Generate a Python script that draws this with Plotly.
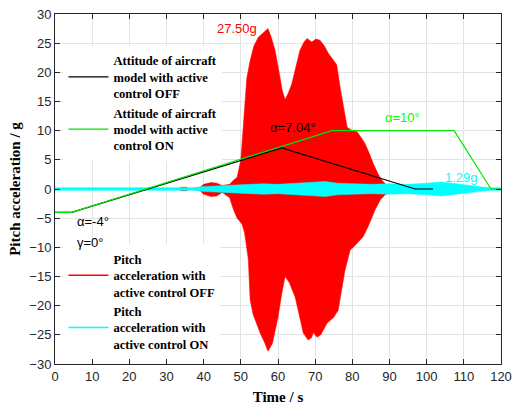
import plotly.graph_objects as go

# ---- data ----
red_up_t = [33, 34, 35.5, 36, 39, 40, 42, 43.5, 45, 47, 48, 49, 50, 50.5, 51, 51.6, 52.5, 53.5, 54.7, 56,
            57.3, 58.2, 59.2, 60.3, 61.1, 61.9, 62.8, 63.7, 65, 65.9, 67, 67.8, 69.1, 70.2, 71.3, 72.5,
            73.5, 75, 75.8, 76.7, 77.6, 78.6, 80, 81.3, 82.5, 83.4, 84.5, 85.6, 87, 88, 89, 92, 95, 96]
red_up_v = [0, 0.3, 0.3, 0, 0.3, 0.8, 1.1, 1.0, 0.6, 0.8, 1.5, 2.0, 5.0, 10, 15, 19, 22, 24.5, 26, 26.8,
            27.5, 26, 23.8, 20, 17, 15.3, 16.5, 18, 21.5, 23.8, 25.2, 25.8, 25.2, 25.7, 25.5, 24.5,
            23.3, 22, 21.3, 17.5, 14, 10.6, 10, 9.8, 8.7, 7.8, 6.2, 4.4, 2.5, 1.5, 0.8, 0.6, 0.4, 0]
red_lo_t = [33, 34, 35.5, 36, 39, 40, 42, 43.5, 45, 47, 48, 49, 50.3, 51, 52, 52.5, 53.3, 55.2, 56.5,
            57.3, 58.5, 60, 61, 61.9, 63, 64.6, 65.5, 66.8, 68.1, 69, 69.5, 70.5, 71.5, 73.2, 75, 76.2,
            77, 78, 79.4, 81, 82.9, 84.2, 86.1, 87.5, 88.8, 90, 95, 96]
red_lo_v = [0, -0.3, -0.3, 0, -0.3, -0.9, -1.3, -1.2, -0.6, -1.5, -3.5, -5, -6, -7.5, -12, -19, -21.5,
            -24.7, -26.5, -27.8, -26.5, -22, -18, -15, -16, -18.5, -21, -24.7, -25.9, -25.5, -24.6,
            -25.4, -25, -23, -22, -20.8, -18, -14, -10.5, -9.5, -8.2, -6.5, -3.6, -1.9, -1, -0.6, -0.4, 0]

cyan_t = [0, 38, 39, 42, 45, 48, 52, 56, 60, 65, 70, 72.7, 76, 80, 85, 90, 95, 100, 104, 108, 112, 116, 118, 120]
cyan_up = [0.15, 0.15, 0.4, 0.5, 0.6, 0.7, 0.8, 0.9, 0.8, 1.0, 1.1, 1.29, 1.0, 0.9, 0.8, 0.9, 0.8, 1.0, 1.2, 0.9, 0.6, 0.3, 0.1, 0.1]
cyan_lo = [-0.15, -0.15, -0.4, -0.5, -0.6, -0.7, -0.8, -0.9, -0.8, -1.0, -1.2, -1.3, -1.0, -0.9, -0.8, -0.9, -0.8, -1.0, -1.2, -0.9, -0.6, -0.3, -0.1, -0.1]
cyan_base_t = [0, 120]
cyan_base_v = [0, 0]

off_t = [0, 4.5, 61, 96.9, 101.7]
off_v = [-4, -4, 7.04, 0, 0]
on_t = [0, 4.5, 74.5, 107.4, 117.3, 120]
on_v = [-4, -4, 10, 10, 0, 0]

x_ticks = list(range(0, 121, 10))
y_ticks = list(range(-30, 31, 5))

RED = "#ff0000"
CYAN = "#00ffff"
GREEN = "#00e600"
BLACK = "#000000"

fig = go.Figure()
# red envelope
fig.add_trace(go.Scatter(x=red_up_t + red_lo_t[::-1], y=red_up_v + red_lo_v[::-1], fill="toself",
                         fillcolor=RED, line=dict(color=RED, width=0.5), mode="lines",
                         showlegend=False, hoverinfo="skip"))
# cyan envelope
fig.add_trace(go.Scatter(x=cyan_t + cyan_t[::-1], y=cyan_up + cyan_lo[::-1], fill="toself",
                         fillcolor=CYAN, line=dict(color=CYAN, width=0.5), mode="lines",
                         showlegend=False, hoverinfo="skip"))
fig.add_trace(go.Scatter(x=cyan_base_t, y=cyan_base_v, mode="lines", line=dict(color=CYAN, width=3),
                         showlegend=False, hoverinfo="skip"))
fig.add_trace(go.Scatter(x=off_t, y=off_v, mode="lines", line=dict(color=BLACK, width=1.2),
                         name="Attitude of aircraft<br>model with active<br>control OFF", legend="legend"))
fig.add_trace(go.Scatter(x=on_t, y=on_v, mode="lines", line=dict(color=GREEN, width=1.2),
                         name="Attitude of aircraft<br>model with active<br>control ON", legend="legend"))
# legend entries for the acceleration signals
fig.add_trace(go.Scatter(x=[None], y=[None], mode="lines", line=dict(color=RED, width=1.5),
                         name="Pitch<br>acceleration with<br>active control OFF", legend="legend2"))
fig.add_trace(go.Scatter(x=[None], y=[None], mode="lines", line=dict(color=CYAN, width=1.5),
                         name="Pitch<br>acceleration with<br>active control ON", legend="legend2"))

legfont = dict(family="Liberation Serif", size=12.6, color="#000000", weight="bold")
axfont = dict(family="Liberation Serif", size=15, color="#000000", weight="bold")
common_axis = dict(showgrid=True, gridcolor="#e3e3e3", zeroline=False, automargin=False,
                   showline=True, linecolor="#262626", linewidth=1, mirror="ticks", ticks="inside",
                   ticklen=5, tickcolor="#262626")
fig.update_layout(
    width=513, height=410,
    margin=dict(l=55, r=12, t=14, b=46),
    paper_bgcolor="white", plot_bgcolor="white",
    font=dict(family="Liberation Sans", size=13, color="#262626"),
    legend=dict(x=0.019, y=0.909, xanchor="left", yanchor="top", bgcolor="white",
                font=legfont, itemwidth=40, tracegroupgap=0),
    legend2=dict(x=0.019, y=0.342, xanchor="left", yanchor="top", bgcolor="white",
                 font=legfont, itemwidth=40, tracegroupgap=0),
    xaxis=dict(range=[0, 120], tickvals=x_ticks,
               title=dict(text="Time / s", font=axfont, standoff=8), **common_axis),
    yaxis=dict(range=[-30, 30], tickvals=y_ticks,
               title=dict(text="Pitch acceleration / g", font=axfont, standoff=5), **common_axis),
)

def label(x, y, text, color, **kw):
    fig.add_annotation(x=x, y=y, text=text, showarrow=False,
                       font=dict(family="Liberation Sans", size=13, color=color), **kw)

label(49.0, 27.6, "27.50g", RED)
label(64.0, 10.5, "α=7.04°", BLACK)
label(93.6, 12.3, "α=10°", "#00ff00")
label(109.3, 1.9, "1.29g", CYAN)
label(5.4, -5.6, "α=-4°", BLACK, xanchor="left")
label(5.4, -9.1, "γ=0°", BLACK, xanchor="left")

fig.write_html("out.html")
